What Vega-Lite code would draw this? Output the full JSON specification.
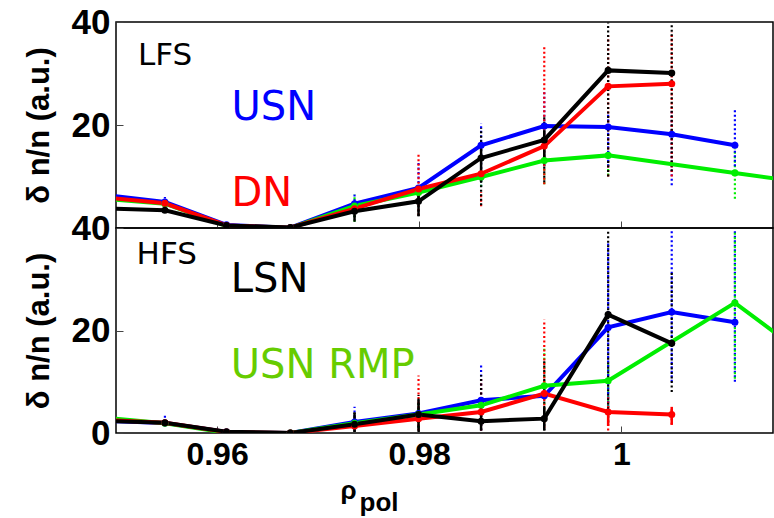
{
  "$schema": "https://vega.github.io/schema/vega-lite/v6.json",
  "background": "white",
  "padding": {"left": 22, "top": 4, "right": 1, "bottom": 1},
  "bounds": "flush",
  "spacing": 0,
  "config": {
    "view": {"stroke": "black", "strokeWidth": 1.5},
    "axis": {
      "grid": false, "domain": false, "ticks": true, "tickSize": -7, "tickColor": "#444", "tickWidth": 1,
      "labelFont": "Liberation Sans", "labelFontWeight": "bold", "labelColor": "black",
      "titleFont": "Liberation Sans", "titleFontWeight": "bold", "titleColor": "black"
    },
    "axisX": {"labelFontSize": 32},
    "axisY": {"labelFontSize": 35, "labelPadding": 13, "titleFontSize": 31, "titlePadding": 16}
  },
  "datasets": {
    "lines": [
      {"p": "LFS", "s": "USN", "x": 0.9485, "y": 6.5},
      {"p": "LFS", "s": "USN", "x": 0.95484, "y": 5.05},
      {"p": "LFS", "s": "USN", "x": 0.96093, "y": 0.6},
      {"p": "LFS", "s": "USN", "x": 0.96725, "y": 0.05},
      {"p": "LFS", "s": "USN", "x": 0.9736, "y": 4.72},
      {"p": "LFS", "s": "USN", "x": 0.97993, "y": 7.77},
      {"p": "LFS", "s": "USN", "x": 0.98612, "y": 16.06},
      {"p": "LFS", "s": "USN", "x": 0.99237, "y": 19.8},
      {"p": "LFS", "s": "USN", "x": 0.99869, "y": 19.6},
      {"p": "LFS", "s": "USN", "x": 1.00498, "y": 18.2},
      {"p": "LFS", "s": "USN", "x": 1.01123, "y": 16.06},
      {"p": "LFS", "s": "USN RMP", "x": 0.9485, "y": 5.74},
      {"p": "LFS", "s": "USN RMP", "x": 0.95484, "y": 4.72},
      {"p": "LFS", "s": "USN RMP", "x": 0.96093, "y": 0.4},
      {"p": "LFS", "s": "USN RMP", "x": 0.96725, "y": 0.0},
      {"p": "LFS", "s": "USN RMP", "x": 0.9736, "y": 4.27},
      {"p": "LFS", "s": "USN RMP", "x": 0.97993, "y": 6.9},
      {"p": "LFS", "s": "USN RMP", "x": 0.98612, "y": 9.9},
      {"p": "LFS", "s": "USN RMP", "x": 0.99237, "y": 13.1},
      {"p": "LFS", "s": "USN RMP", "x": 0.99869, "y": 14.1},
      {"p": "LFS", "s": "USN RMP", "x": 1.01123, "y": 10.7},
      {"p": "LFS", "s": "USN RMP", "x": 1.0175, "y": 8.95},
      {"p": "LFS", "s": "DN", "x": 0.9485, "y": 6.0},
      {"p": "LFS", "s": "DN", "x": 0.95484, "y": 4.8},
      {"p": "LFS", "s": "DN", "x": 0.96093, "y": 0.5},
      {"p": "LFS", "s": "DN", "x": 0.96725, "y": 0.05},
      {"p": "LFS", "s": "DN", "x": 0.9736, "y": 3.75},
      {"p": "LFS", "s": "DN", "x": 0.97993, "y": 7.57},
      {"p": "LFS", "s": "DN", "x": 0.98612, "y": 10.54},
      {"p": "LFS", "s": "DN", "x": 0.99237, "y": 15.9},
      {"p": "LFS", "s": "DN", "x": 0.99869, "y": 27.5},
      {"p": "LFS", "s": "DN", "x": 1.00498, "y": 28.0},
      {"p": "LFS", "s": "LSN", "x": 0.9485, "y": 3.84},
      {"p": "LFS", "s": "LSN", "x": 0.95484, "y": 3.44},
      {"p": "LFS", "s": "LSN", "x": 0.96093, "y": 0.5},
      {"p": "LFS", "s": "LSN", "x": 0.96725, "y": 0.1},
      {"p": "LFS", "s": "LSN", "x": 0.9736, "y": 3.24},
      {"p": "LFS", "s": "LSN", "x": 0.97993, "y": 5.18},
      {"p": "LFS", "s": "LSN", "x": 0.98612, "y": 13.6},
      {"p": "LFS", "s": "LSN", "x": 0.99237, "y": 17.1},
      {"p": "LFS", "s": "LSN", "x": 0.99869, "y": 30.6},
      {"p": "LFS", "s": "LSN", "x": 1.00498, "y": 30.1},
      {"p": "HFS", "s": "USN", "x": 0.9485, "y": 2.4},
      {"p": "HFS", "s": "USN", "x": 0.95484, "y": 1.96},
      {"p": "HFS", "s": "USN", "x": 0.96093, "y": 0.2},
      {"p": "HFS", "s": "USN", "x": 0.96725, "y": 0.0},
      {"p": "HFS", "s": "USN", "x": 0.9736, "y": 2.16},
      {"p": "HFS", "s": "USN", "x": 0.97993, "y": 3.8},
      {"p": "HFS", "s": "USN", "x": 0.98612, "y": 6.4},
      {"p": "HFS", "s": "USN", "x": 0.99237, "y": 7.25},
      {"p": "HFS", "s": "USN", "x": 0.99869, "y": 20.6},
      {"p": "HFS", "s": "USN", "x": 1.00498, "y": 23.6},
      {"p": "HFS", "s": "USN", "x": 1.01123, "y": 21.6},
      {"p": "HFS", "s": "USN RMP", "x": 0.9485, "y": 3.07},
      {"p": "HFS", "s": "USN RMP", "x": 0.95484, "y": 1.9},
      {"p": "HFS", "s": "USN RMP", "x": 0.96093, "y": 0.05},
      {"p": "HFS", "s": "USN RMP", "x": 0.96725, "y": 0.0},
      {"p": "HFS", "s": "USN RMP", "x": 0.9736, "y": 1.9},
      {"p": "HFS", "s": "USN RMP", "x": 0.97993, "y": 3.6},
      {"p": "HFS", "s": "USN RMP", "x": 0.98612, "y": 5.4},
      {"p": "HFS", "s": "USN RMP", "x": 0.99237, "y": 9.2},
      {"p": "HFS", "s": "USN RMP", "x": 0.99869, "y": 10.2},
      {"p": "HFS", "s": "USN RMP", "x": 1.01123, "y": 25.4},
      {"p": "HFS", "s": "USN RMP", "x": 1.0175, "y": 16.2},
      {"p": "HFS", "s": "DN", "x": 0.9485, "y": 2.6},
      {"p": "HFS", "s": "DN", "x": 0.95484, "y": 2.0},
      {"p": "HFS", "s": "DN", "x": 0.96093, "y": 0.2},
      {"p": "HFS", "s": "DN", "x": 0.96725, "y": 0.0},
      {"p": "HFS", "s": "DN", "x": 0.9736, "y": 1.37},
      {"p": "HFS", "s": "DN", "x": 0.97993, "y": 2.8},
      {"p": "HFS", "s": "DN", "x": 0.98612, "y": 4.1},
      {"p": "HFS", "s": "DN", "x": 0.99237, "y": 7.7},
      {"p": "HFS", "s": "DN", "x": 0.99869, "y": 4.1},
      {"p": "HFS", "s": "DN", "x": 1.00498, "y": 3.6},
      {"p": "HFS", "s": "LSN", "x": 0.9485, "y": 2.4},
      {"p": "HFS", "s": "LSN", "x": 0.95484, "y": 2.0},
      {"p": "HFS", "s": "LSN", "x": 0.96093, "y": 0.25},
      {"p": "HFS", "s": "LSN", "x": 0.96725, "y": 0.0},
      {"p": "HFS", "s": "LSN", "x": 0.9736, "y": 1.7},
      {"p": "HFS", "s": "LSN", "x": 0.97993, "y": 3.6},
      {"p": "HFS", "s": "LSN", "x": 0.98612, "y": 2.3},
      {"p": "HFS", "s": "LSN", "x": 0.99237, "y": 2.8},
      {"p": "HFS", "s": "LSN", "x": 0.99869, "y": 23.1},
      {"p": "HFS", "s": "LSN", "x": 1.00498, "y": 17.5}
    ],
    "dots": [
      {"p": "LFS", "s": "USN", "x": 0.95484, "lo": 4.0, "hi": 6.0},
      {"p": "LFS", "s": "USN", "x": 0.9736, "lo": 3.5, "hi": 6.5},
      {"p": "LFS", "s": "USN RMP", "x": 0.9736, "lo": 1.2, "hi": 6.5},
      {"p": "LFS", "s": "LSN", "x": 0.9736, "lo": 1.2, "hi": 4.5},
      {"p": "LFS", "s": "USN", "x": 0.97993, "lo": 7.0, "hi": 12.6},
      {"p": "LFS", "s": "DN", "x": 0.97993, "lo": 2.5, "hi": 14.6},
      {"p": "LFS", "s": "LSN", "x": 0.97993, "lo": 2.3, "hi": 7.4},
      {"p": "LFS", "s": "USN", "x": 0.98612, "lo": 8.0, "hi": 20.3},
      {"p": "LFS", "s": "USN RMP", "x": 0.98612, "lo": 8.0, "hi": 11.0},
      {"p": "LFS", "s": "DN", "x": 0.98612, "lo": 4.2, "hi": 7.0},
      {"p": "LFS", "s": "LSN", "x": 0.98612, "lo": 4.4, "hi": 19.4},
      {"p": "LFS", "s": "USN RMP", "x": 0.99237, "lo": 8.5, "hi": 15.0},
      {"p": "LFS", "s": "USN", "x": 0.99237, "lo": 12.0, "hi": 26.7},
      {"p": "LFS", "s": "DN", "x": 0.99237, "lo": 8.5, "hi": 35.1},
      {"p": "LFS", "s": "LSN", "x": 0.99237, "lo": 8.9, "hi": 22.0},
      {"p": "LFS", "s": "USN RMP", "x": 0.99869, "lo": 10.2, "hi": 15.4},
      {"p": "LFS", "s": "USN", "x": 0.99869, "lo": 12.0, "hi": 22.0},
      {"p": "LFS", "s": "DN", "x": 0.99869, "lo": 10.0, "hi": 37.4},
      {"p": "LFS", "s": "LSN", "x": 0.99869, "lo": 10.0, "hi": 39.9},
      {"p": "LFS", "s": "USN", "x": 1.00498, "lo": 8.3, "hi": 23.2},
      {"p": "LFS", "s": "DN", "x": 1.00498, "lo": 10.0, "hi": 38.0},
      {"p": "LFS", "s": "LSN", "x": 1.00498, "lo": 11.0, "hi": 39.5},
      {"p": "LFS", "s": "USN RMP", "x": 1.01123, "lo": 5.7, "hi": 15.4},
      {"p": "LFS", "s": "USN", "x": 1.01123, "lo": 12.0, "hi": 23.0},
      {"p": "HFS", "s": "USN", "x": 0.95484, "lo": 1.2, "hi": 3.5},
      {"p": "HFS", "s": "USN", "x": 0.9736, "lo": 0.5, "hi": 5.1},
      {"p": "HFS", "s": "LSN", "x": 0.9736, "lo": 0.2, "hi": 4.0},
      {"p": "HFS", "s": "USN RMP", "x": 0.97993, "lo": 1.0, "hi": 6.0},
      {"p": "HFS", "s": "DN", "x": 0.97993, "lo": 0.5, "hi": 11.2},
      {"p": "HFS", "s": "LSN", "x": 0.97993, "lo": 0.2, "hi": 7.4},
      {"p": "HFS", "s": "USN", "x": 0.98612, "lo": 0.5, "hi": 13.6},
      {"p": "HFS", "s": "DN", "x": 0.98612, "lo": 0.5, "hi": 11.0},
      {"p": "HFS", "s": "LSN", "x": 0.98612, "lo": 0.5, "hi": 11.3},
      {"p": "HFS", "s": "USN RMP", "x": 0.99237, "lo": 2.0, "hi": 16.5},
      {"p": "HFS", "s": "DN", "x": 0.99237, "lo": 1.0, "hi": 22.1},
      {"p": "HFS", "s": "LSN", "x": 0.99237, "lo": 0.5, "hi": 14.0},
      {"p": "HFS", "s": "USN RMP", "x": 0.99869, "lo": 5.1, "hi": 13.9},
      {"p": "HFS", "s": "USN", "x": 0.99869, "lo": 5.0, "hi": 37.1},
      {"p": "HFS", "s": "DN", "x": 0.99869, "lo": 0.5, "hi": 7.0},
      {"p": "HFS", "s": "LSN", "x": 0.99869, "lo": 2.0, "hi": 39.5},
      {"p": "HFS", "s": "USN", "x": 1.00498, "lo": 10.0, "hi": 39.4},
      {"p": "HFS", "s": "LSN", "x": 1.00498, "lo": 8.0, "hi": 31.6},
      {"p": "HFS", "s": "DN", "x": 1.00498, "lo": 1.6, "hi": 5.1},
      {"p": "HFS", "s": "USN", "x": 1.01123, "lo": 10.0, "hi": 39.7},
      {"p": "HFS", "s": "USN RMP", "x": 1.01123, "lo": 10.6, "hi": 39.4}
    ],
    "cores": [
      {"p": "LFS", "s": "LSN", "x": 0.9736, "lo": 1.5, "hi": 4.5},
      {"p": "LFS", "s": "LSN", "x": 0.97993, "lo": 2.3, "hi": 7.4},
      {"p": "LFS", "s": "LSN", "x": 0.98612, "lo": 9.0, "hi": 16.0},
      {"p": "LFS", "s": "LSN", "x": 0.99237, "lo": 13.0, "hi": 19.0},
      {"p": "HFS", "s": "LSN", "x": 0.9736, "lo": 0.2, "hi": 4.0},
      {"p": "HFS", "s": "LSN", "x": 0.97993, "lo": 0.5, "hi": 6.5},
      {"p": "HFS", "s": "LSN", "x": 0.98612, "lo": 0.5, "hi": 5.0},
      {"p": "HFS", "s": "LSN", "x": 0.99237, "lo": 0.5, "hi": 5.0},
      {"p": "HFS", "s": "DN", "x": 0.99869, "lo": 1.4, "hi": 3.9},
      {"p": "HFS", "s": "DN", "x": 1.00498, "lo": 1.6, "hi": 5.1}
    ],
    "labels": [
      {"p": "LFS", "t": "LFS", "s": "panel", "x": 0.95217, "y": 31.65},
      {"p": "LFS", "t": "USN", "s": "USN", "x": 0.96143, "y": 20.9},
      {"p": "LFS", "t": "DN", "s": "DN", "x": 0.96143, "y": 4.27},
      {"p": "HFS", "t": "HFS", "s": "panel", "x": 0.95204, "y": 32.9},
      {"p": "HFS", "t": "LSN", "s": "LSN", "x": 0.96136, "y": 27.45},
      {"p": "HFS", "t": "USN RMP", "s": "USN RMP", "x": 0.96136, "y": 10.65}
    ]
  },
  "vconcat": [
    {
      "width": 657,
      "height": 206,
      "encoding": {
        "x": {"field": "x", "type": "quantitative", "scale": {"domain": [0.95, 1.015], "nice": false, "zero": false}, "axis": {"values": [0.96, 0.98, 1], "labels": false, "title": null}}
      },
      "layer": [
        {
          "data": {"name": "dots"},
          "transform": [{"filter": "datum.p == 'LFS'"}],
          "mark": {"type": "rule", "strokeDash": [2, 2.5], "strokeWidth": 2.2, "clip": true},
          "encoding": {
            "y": {"field": "lo", "type": "quantitative", "scale": {"domain": [0, 40], "nice": false}, "axis": {"values": [20, 40], "title": "δ n/n (a.u.)"}},
            "y2": {"field": "hi"},
            "color": {"field": "s", "type": "nominal", "scale": {"domain": ["USN", "DN", "LSN", "USN RMP"], "range": ["#0000ff", "#ff0000", "#000000", "#00ee00"]}, "legend": null}
          }
        },
        {
          "data": {"name": "cores"},
          "transform": [{"filter": "datum.p == 'LFS'"}],
          "mark": {"type": "rule", "strokeWidth": 2.5, "clip": true},
          "encoding": {
            "y": {"field": "lo", "type": "quantitative", "scale": {"domain": [0, 40], "nice": false}, "axis": {"values": [20, 40], "title": "δ n/n (a.u.)"}},
            "y2": {"field": "hi"},
            "color": {"field": "s", "type": "nominal", "scale": {"domain": ["USN", "DN", "LSN", "USN RMP"], "range": ["#0000ff", "#ff0000", "#000000", "#00ee00"]}, "legend": null}
          }
        },
        {
          "data": {"name": "lines"},
          "transform": [{"filter": "datum.p == 'LFS'"}],
          "mark": {"type": "line", "strokeWidth": 4, "clip": true},
          "encoding": {
            "y": {"field": "y", "type": "quantitative", "scale": {"domain": [0, 40], "nice": false}, "axis": {"values": [20, 40], "title": "δ n/n (a.u.)"}},
            "color": {"field": "s", "type": "nominal", "sort": null, "scale": {"domain": ["USN", "DN", "LSN", "USN RMP"], "range": ["#0000ff", "#ff0000", "#000000", "#00ee00"]}, "legend": null}
          }
        },
        {
          "data": {"name": "lines"},
          "transform": [{"filter": "datum.p == 'LFS'"}],
          "mark": {"type": "point", "filled": true, "size": 50, "opacity": 1, "clip": true},
          "encoding": {
            "y": {"field": "y", "type": "quantitative", "scale": {"domain": [0, 40], "nice": false}, "axis": {"values": [20, 40], "title": "δ n/n (a.u.)"}},
            "color": {"field": "s", "type": "nominal", "scale": {"domain": ["USN", "DN", "LSN", "USN RMP"], "range": ["#0000ff", "#ff0000", "#000000", "#00ee00"]}, "legend": null}
          }
        },
        {
          "data": {"name": "labels"},
          "transform": [{"filter": "datum.p == 'LFS' && datum.s == 'panel'"}],
          "mark": {"type": "text", "font": "DejaVu Sans", "fontSize": 31, "align": "left", "baseline": "alphabetic", "color": "black"},
          "encoding": {
            "y": {"field": "y", "type": "quantitative", "scale": {"domain": [0, 40], "nice": false}, "axis": {"values": [20, 40], "title": "δ n/n (a.u.)"}},
            "text": {"field": "t"}
          }
        },
        {
          "data": {"name": "labels"},
          "transform": [{"filter": "datum.p == 'LFS' && datum.s != 'panel'"}],
          "mark": {"type": "text", "font": "DejaVu Sans", "fontSize": 40, "align": "left", "baseline": "alphabetic"},
          "encoding": {
            "y": {"field": "y", "type": "quantitative", "scale": {"domain": [0, 40], "nice": false}, "axis": {"values": [20, 40], "title": "δ n/n (a.u.)"}},
            "text": {"field": "t"},
            "color": {"field": "s", "type": "nominal", "scale": {"domain": ["USN", "DN", "LSN", "USN RMP"], "range": ["#0000ff", "#ff0000", "#000000", "#66cc00"]}, "legend": null}
          }
        }
      ],
      "resolve": {"scale": {"color": "independent"}}
    },
    {
      "width": 657,
      "height": 205,
      "encoding": {
        "x": {"field": "x", "type": "quantitative", "scale": {"domain": [0.95, 1.015], "nice": false, "zero": false}, "axis": {"values": [0.96, 0.98, 1], "labelPadding": 13, "labelExpr": "datum.value == 1 ? '1' : format(datum.value, '.2f')", "title": ["ρ", "\u2800pol"], "titleFontSize": 26, "titleLineHeight": 12, "titleX": 224, "titleY": 65, "titleBaseline": "alphabetic", "titleAlign": "left"}}
      },
      "layer": [
        {
          "data": {"name": "dots"},
          "transform": [{"filter": "datum.p == 'HFS'"}],
          "mark": {"type": "rule", "strokeDash": [2, 2.5], "strokeWidth": 2.2, "clip": true},
          "encoding": {
            "y": {"field": "lo", "type": "quantitative", "scale": {"domain": [0, 40], "nice": false}, "axis": {"values": [0, 20, 40], "title": "δ n/n (a.u.)"}},
            "y2": {"field": "hi"},
            "color": {"field": "s", "type": "nominal", "scale": {"domain": ["USN", "DN", "LSN", "USN RMP"], "range": ["#0000ff", "#ff0000", "#000000", "#00ee00"]}, "legend": null}
          }
        },
        {
          "data": {"name": "cores"},
          "transform": [{"filter": "datum.p == 'HFS'"}],
          "mark": {"type": "rule", "strokeWidth": 2.5, "clip": true},
          "encoding": {
            "y": {"field": "lo", "type": "quantitative", "scale": {"domain": [0, 40], "nice": false}, "axis": {"values": [0, 20, 40], "title": "δ n/n (a.u.)"}},
            "y2": {"field": "hi"},
            "color": {"field": "s", "type": "nominal", "scale": {"domain": ["USN", "DN", "LSN", "USN RMP"], "range": ["#0000ff", "#ff0000", "#000000", "#00ee00"]}, "legend": null}
          }
        },
        {
          "data": {"name": "lines"},
          "transform": [{"filter": "datum.p == 'HFS'"}],
          "mark": {"type": "line", "strokeWidth": 4, "clip": true},
          "encoding": {
            "y": {"field": "y", "type": "quantitative", "scale": {"domain": [0, 40], "nice": false}, "axis": {"values": [0, 20, 40], "title": "δ n/n (a.u.)"}},
            "color": {"field": "s", "type": "nominal", "sort": null, "scale": {"domain": ["USN", "DN", "LSN", "USN RMP"], "range": ["#0000ff", "#ff0000", "#000000", "#00ee00"]}, "legend": null}
          }
        },
        {
          "data": {"name": "lines"},
          "transform": [{"filter": "datum.p == 'HFS'"}],
          "mark": {"type": "point", "filled": true, "size": 50, "opacity": 1, "clip": true},
          "encoding": {
            "y": {"field": "y", "type": "quantitative", "scale": {"domain": [0, 40], "nice": false}, "axis": {"values": [0, 20, 40], "title": "δ n/n (a.u.)"}},
            "color": {"field": "s", "type": "nominal", "scale": {"domain": ["USN", "DN", "LSN", "USN RMP"], "range": ["#0000ff", "#ff0000", "#000000", "#00ee00"]}, "legend": null}
          }
        },
        {
          "data": {"name": "labels"},
          "transform": [{"filter": "datum.p == 'HFS' && datum.s == 'panel'"}],
          "mark": {"type": "text", "font": "DejaVu Sans", "fontSize": 31, "align": "left", "baseline": "alphabetic", "color": "black"},
          "encoding": {
            "y": {"field": "y", "type": "quantitative", "scale": {"domain": [0, 40], "nice": false}, "axis": {"values": [0, 20, 40], "title": "δ n/n (a.u.)"}},
            "text": {"field": "t"}
          }
        },
        {
          "data": {"name": "labels"},
          "transform": [{"filter": "datum.p == 'HFS' && datum.s != 'panel'"}],
          "mark": {"type": "text", "font": "DejaVu Sans", "fontSize": 40, "align": "left", "baseline": "alphabetic"},
          "encoding": {
            "y": {"field": "y", "type": "quantitative", "scale": {"domain": [0, 40], "nice": false}, "axis": {"values": [0, 20, 40], "title": "δ n/n (a.u.)"}},
            "text": {"field": "t"},
            "color": {"field": "s", "type": "nominal", "scale": {"domain": ["USN", "DN", "LSN", "USN RMP"], "range": ["#0000ff", "#ff0000", "#000000", "#66cc00"]}, "legend": null}
          }
        }
      ],
      "resolve": {"scale": {"color": "independent"}}
    }
  ]
}
